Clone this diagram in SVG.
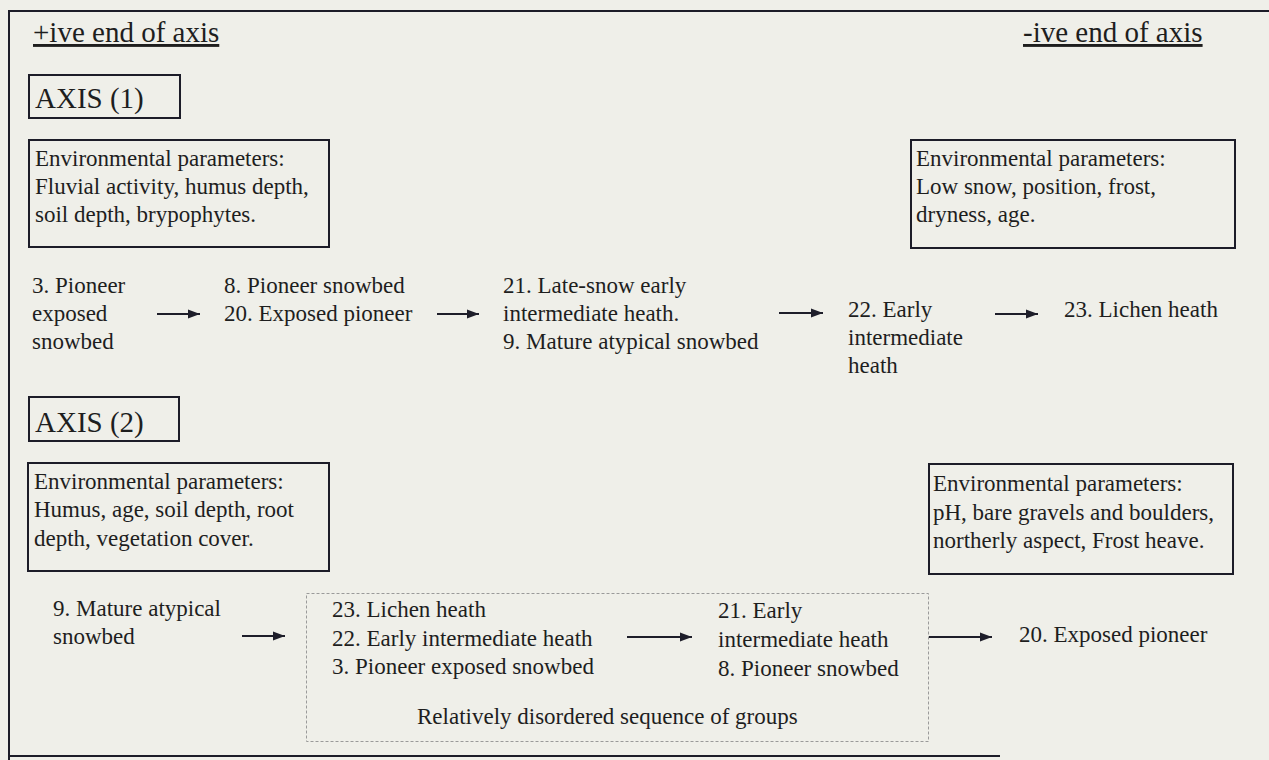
<svg xmlns="http://www.w3.org/2000/svg" width="1269" height="760" viewBox="0 0 1269 760">
  <style>
    text { font-family: "Liberation Serif", "Times New Roman", serif; fill: #1e1e1e; }
    .hdr { font-size: 29px; }
    .body { font-size: 23px; }
    .box { fill: none; stroke: #1c1c28; stroke-width: 2; }
    .dash { fill: none; stroke: #9a9a9a; stroke-width: 1; stroke-dasharray: 3 2; }
    .frame { fill: none; stroke: #1c1c28; stroke-width: 2; }
    .arrow { stroke: #1e1e2a; stroke-width: 2; fill: none; marker-end: url(#head); }
  </style>
  <defs>
    <marker id="head" markerUnits="userSpaceOnUse" markerWidth="14" markerHeight="12" refX="12" refY="6" orient="auto">
      <path d="M0,1.5 L12,6 L0,10.5 Z" fill="#1e1e2a"/>
    </marker>
  </defs>

  <!-- page -->
  <rect x="0" y="0" width="1269" height="760" fill="#efefe9"/>
  <path class="frame" d="M1269,11 H9 V760"/>
  <path class="frame" d="M9,756 H1000"/>

  <!-- axis end labels -->
  <g id="pos-end">
    <text class="hdr" x="33" y="42" text-decoration="underline">+ive end of axis</text>
  </g>
  <g id="neg-end">
    <text class="hdr" x="1023" y="42" text-decoration="underline">-ive end of axis</text>
  </g>

  <!-- Axis 1 -->
  <g id="axis1-title">
    <rect class="box" x="29" y="75" width="151" height="43"/>
    <text class="hdr" x="35" y="108">AXIS (1)</text>
  </g>
  <g id="axis1-env-pos">
    <rect class="box" x="29" y="140" width="300" height="107"/>
    <text class="body" x="35" y="166">Environmental parameters:</text>
    <text class="body" x="35" y="194">Fluvial activity, humus depth,</text>
    <text class="body" x="35" y="222">soil depth, brypophytes.</text>
  </g>
  <g id="axis1-env-neg">
    <rect class="box" x="911" y="140" width="324" height="108"/>
    <text class="body" x="916" y="166">Environmental parameters:</text>
    <text class="body" x="916" y="194">Low snow, position, frost,</text>
    <text class="body" x="916" y="222">dryness, age.</text>
  </g>
  <g id="a1-g3">
    <text class="body" x="32" y="293">3. Pioneer</text>
    <text class="body" x="32" y="321">exposed</text>
    <text class="body" x="32" y="349">snowbed</text>
  </g>
  <g id="a1-g8-20">
    <text class="body" x="224" y="293">8. Pioneer snowbed</text>
    <text class="body" x="224" y="321">20. Exposed pioneer</text>
  </g>
  <g id="a1-g21-9">
    <text class="body" x="503" y="293">21. Late-snow early</text>
    <text class="body" x="503" y="321">intermediate heath.</text>
    <text class="body" x="503" y="349">9. Mature atypical snowbed</text>
  </g>
  <g id="a1-g22">
    <text class="body" x="848" y="317">22. Early</text>
    <text class="body" x="848" y="345">intermediate</text>
    <text class="body" x="848" y="373">heath</text>
  </g>
  <g id="a1-g23">
    <text class="body" x="1064" y="317">23. Lichen heath</text>
  </g>

  <!-- Axis 2 -->
  <g id="axis2-title">
    <rect class="box" x="29" y="397" width="150" height="44"/>
    <text class="hdr" x="35" y="432">AXIS (2)</text>
  </g>
  <g id="axis2-env-pos">
    <rect class="box" x="28" y="463" width="301" height="108"/>
    <text class="body" x="34" y="489">Environmental parameters:</text>
    <text class="body" x="34" y="517">Humus, age, soil depth, root</text>
    <text class="body" x="34" y="546">depth, vegetation cover.</text>
  </g>
  <g id="axis2-env-neg">
    <rect class="box" x="929" y="464" width="304" height="110"/>
    <text class="body" x="933" y="491">Environmental parameters:</text>
    <text class="body" x="933" y="520">pH, bare gravels and boulders,</text>
    <text class="body" x="933" y="548">northerly aspect, Frost heave.</text>
  </g>
  <g id="a2-g9">
    <text class="body" x="53" y="616">9. Mature atypical</text>
    <text class="body" x="53" y="644">snowbed</text>
  </g>
  <g id="a2-disordered">
    <rect class="dash" x="306.5" y="593.5" width="622" height="148"/>
    <g id="a2-g23-22-3">
      <text class="body" x="332" y="617">23. Lichen heath</text>
      <text class="body" x="332" y="646">22. Early intermediate heath</text>
      <text class="body" x="332" y="674">3. Pioneer exposed snowbed</text>
    </g>
    <g id="a2-g21-8">
      <text class="body" x="718" y="618">21. Early</text>
      <text class="body" x="718" y="647">intermediate heath</text>
      <text class="body" x="718" y="676">8. Pioneer snowbed</text>
    </g>
    <text class="body" x="417" y="724">Relatively disordered sequence of groups</text>
  </g>
  <g id="a2-g20">
    <text class="body" x="1019" y="642">20. Exposed pioneer</text>
  </g>

  <!-- connectors -->
  <g id="connectors">
    <line class="arrow" x1="157" y1="314" x2="200" y2="314"/>
    <line class="arrow" x1="437" y1="314" x2="479" y2="314"/>
    <line class="arrow" x1="779" y1="313" x2="823" y2="313"/>
    <line class="arrow" x1="995" y1="314" x2="1038" y2="314"/>
    <line class="arrow" x1="242" y1="636" x2="285" y2="636"/>
    <line class="arrow" x1="627" y1="637" x2="692" y2="637"/>
    <line class="arrow" x1="929" y1="637" x2="992" y2="637"/>
  </g>
</svg>
